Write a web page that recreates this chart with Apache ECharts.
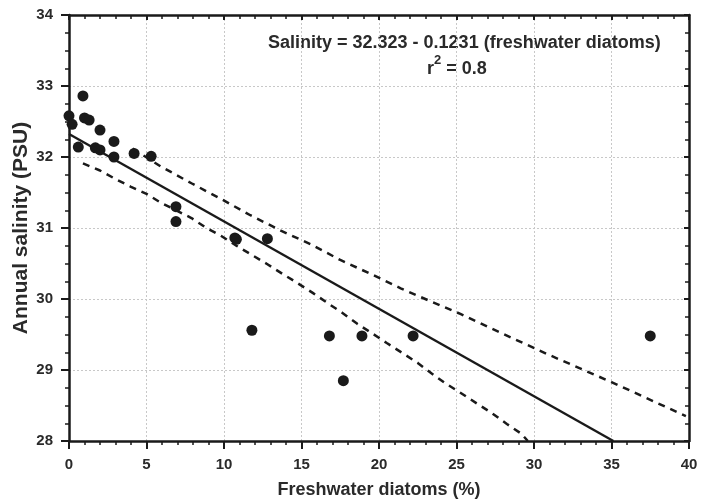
<!DOCTYPE html>
<html>
<head>
<meta charset="utf-8">
<script src="https://cdn.jsdelivr.net/npm/echarts@6/dist/echarts.min.js"></script>
<style>
html, body { margin: 0; padding: 0; background: #fff; }
#chart { width: 702px; height: 504px; }
</style>
</head>
<body>
<div id="chart"></div>
<script>
// observed samples: [freshwater diatoms %, annual salinity PSU]
const samples = [
    [0.0, 32.58], [0.2, 32.46], [0.9, 32.86], [1.0, 32.55], [1.3, 32.52],
    [0.6, 32.14], [2.0, 32.38], [1.7, 32.13], [2.0, 32.10], [2.9, 32.22],
    [2.9, 32.00], [4.2, 32.05], [5.3, 32.01], [6.9, 31.30], [6.9, 31.09],
    [10.7, 30.86], [10.8, 30.84], [12.8, 30.85], [11.8, 29.56], [16.8, 29.48],
    [18.9, 29.48], [22.2, 29.48], [17.7, 28.85], [37.5, 29.48]
];
// regression line ends
const regLine = [[0, 32.323], [35.12, 28.0]];
// dashed bands
const upperBand = [
    [4.1, 32.12], [5.9, 31.87], [7.9, 31.63], [9.8, 31.41], [11.7, 31.18],
    [13.7, 30.96], [15.6, 30.77], [17.5, 30.55], [19.5, 30.35], [21.4, 30.15],
    [23.3, 29.97], [25.25, 29.79], [27.2, 29.59], [29.1, 29.40], [31.0, 29.21],
    [33.1, 29.01], [35.1, 28.82], [37.0, 28.63], [39.8, 28.35]
];
const lowerBand = [
    [0.9, 31.91], [2.0, 31.81], [3.0, 31.69], [4.0, 31.58], [5.0, 31.48],
    [5.9, 31.36], [7.9, 31.14], [8.8, 31.01], [9.8, 30.89], [10.8, 30.75],
    [11.8, 30.62], [12.8, 30.49], [13.8, 30.35], [14.7, 30.23], [15.7, 30.09],
    [16.7, 29.94], [17.6, 29.81], [18.6, 29.65], [19.6, 29.51], [20.5, 29.38],
    [21.5, 29.24], [22.5, 29.10], [23.4, 28.95], [24.3, 28.81], [25.25, 28.68],
    [26.3, 28.53], [27.3, 28.39], [28.25, 28.24], [29.2, 28.10], [29.6, 28.0]
];
const xRange = [0, 40];
const yRange = [28, 34];

const font = 'Liberation Sans, Arial, sans-serif';
const dark = '#1a1a1a';
const txt = '#2a2a2a';

let axisCommon = {
    axisLine: { show: true, onZero: false, lineStyle: { color: dark, width: 2.5 } },
    axisTick: { show: true, length: 8, lineStyle: { color: dark, width: 2 } },
    minorTick: { show: true, length: 4, lineStyle: { color: dark, width: 1.5 } },
    splitLine: { show: false }
};

let option = {
    backgroundColor: '#fff',
    animation: false,
    grid: { left: 69, right: 13, top: 15, bottom: 63, outerBoundsMode: 'none' },
    xAxis: [{
        type: 'value', min: xRange[0], max: xRange[1], interval: 5,
        name: 'Freshwater diatoms (%)', nameLocation: 'middle', nameGap: 40,
        nameTextStyle: { fontFamily: font, fontWeight: 'bold', fontSize: 18, color: txt },
        axisLabel: { fontFamily: font, fontWeight: 'bold', fontSize: 15, color: txt, margin: 16 },
        ...axisCommon,
        minorTick: { ...axisCommon.minorTick, splitNumber: 5 },
        splitLine: { show: true, lineStyle: { color: '#c8c8c8', type: [2, 2], width: 1 } }
    }, {
        type: 'value', position: 'top', min: xRange[0], max: xRange[1], interval: 5,
        axisLabel: { show: false },
        ...axisCommon,
        axisTick: { ...axisCommon.axisTick, inside: true, length: 5 },
        minorTick: { ...axisCommon.minorTick, splitNumber: 5 }
    }],
    yAxis: [{
        type: 'value', min: yRange[0], max: yRange[1], interval: 1,
        name: 'Annual salinity (PSU)', nameLocation: 'middle', nameGap: 37,
        nameMoveOverlap: false,
        nameTextStyle: { fontFamily: font, fontWeight: 'bold', fontSize: 21, color: txt },
        axisLabel: { fontFamily: font, fontWeight: 'bold', fontSize: 15, color: txt, margin: 16 },
        ...axisCommon,
        minorTick: { ...axisCommon.minorTick, splitNumber: 4 },
        splitLine: { show: true, lineStyle: { color: '#c8c8c8', type: [2, 2], width: 1 } }
    }, {
        type: 'value', position: 'right', min: yRange[0], max: yRange[1], interval: 1,
        axisLabel: { show: false },
        ...axisCommon,
        axisTick: { ...axisCommon.axisTick, inside: true, length: 5 },
        minorTick: { ...axisCommon.minorTick, splitNumber: 4 }
    }],
    graphic: [{
        type: 'text', left: 268, top: 34,
        style: {
            text: 'Salinity = 32.323 - 0.1231 (freshwater diatoms)',
            font: 'bold 18px ' + font, fill: txt
        }
    }, {
        type: 'text', left: 427, top: 54,
        style: {
            text: '{b|r}{s|2}{b| = 0.8}',
            rich: {
                b: { font: 'bold 18px ' + font, fill: txt, lineHeight: 24, verticalAlign: 'bottom' },
                s: { font: 'bold 13px ' + font, fill: txt, lineHeight: 13, verticalAlign: 'top' }
            }
        }
    }],
    series: [{
        type: 'line', data: upperBand, symbol: 'none', silent: true,
        lineStyle: { color: dark, width: 2.5, type: [7, 6] }
    }, {
        type: 'line', data: lowerBand, symbol: 'none', silent: true,
        lineStyle: { color: dark, width: 2.5, type: [7, 6] }
    }, {
        type: 'line', data: regLine, symbol: 'none', silent: true,
        lineStyle: { color: dark, width: 2.4 }
    }, {
        type: 'scatter', data: samples, symbolSize: 11,
        itemStyle: { color: dark, opacity: 1 }
    }]
};

let chart = echarts.init(document.getElementById('chart'));
chart.setOption(option);
</script>
</body>
</html>
